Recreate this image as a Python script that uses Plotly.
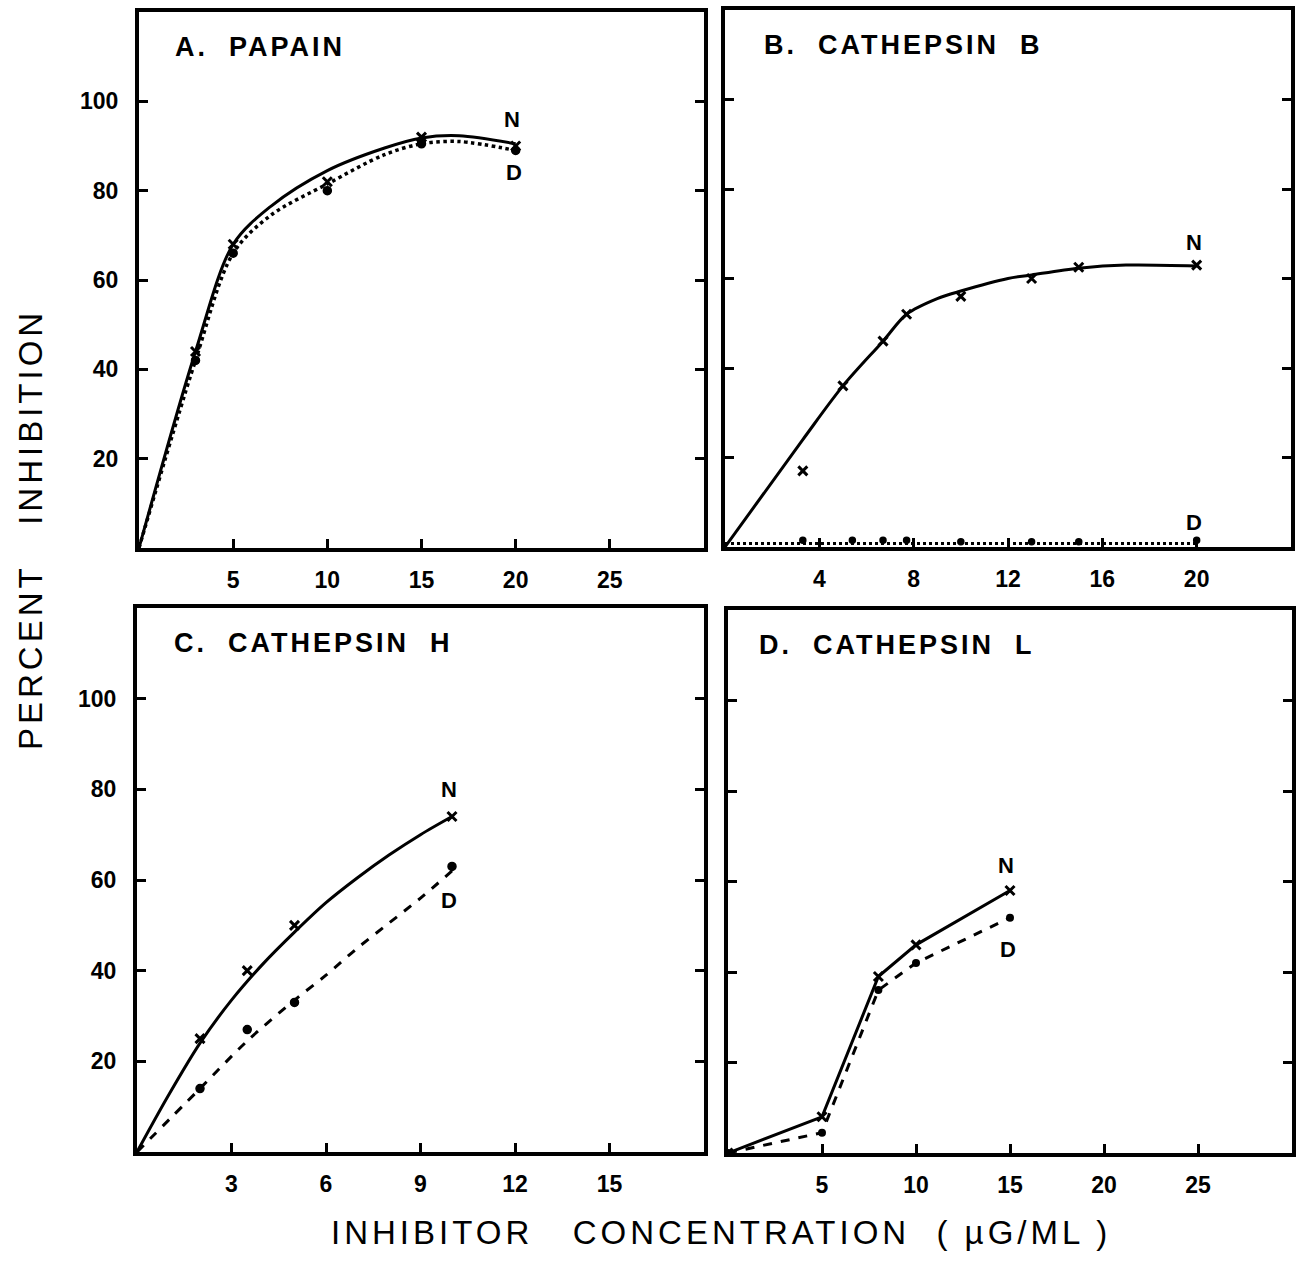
import plotly.graph_objects as go

# ---------------- data ----------------
# Panel A: Papain (x in ug/ml, y in % inhibition)
a_n_x = [3, 5, 10, 15, 20]
a_n_y = [44, 68, 82, 92, 90]
a_d_x = [3, 5, 10, 15, 20]
a_d_y = [42, 66, 80, 90.5, 89]
a_n_curve_x = [0, 3, 5, 7, 10, 13, 15, 17, 20]
a_n_curve_y = [0, 44, 68, 76.5, 84.5, 89.5, 91.8, 92.3, 90.5]
a_d_curve_x = [0, 3, 5, 7, 10, 13, 15, 17, 20]
a_d_curve_y = [0, 42, 66, 74.5, 81.5, 88, 90.5, 91, 89]

# Panel B: Cathepsin B
b_n_x = [3.3, 5, 6.7, 7.7, 10, 13, 15, 20]
b_n_y = [17, 36, 46, 52, 56, 60, 62.5, 63]
b_d_x = [3.3, 5.4, 6.7, 7.7, 10, 13, 15, 20]
b_d_y = [1.5, 1.5, 1.5, 1.5, 1.2, 1.2, 1.2, 1.5]
b_n_curve_x = [0, 3.3, 5, 6.7, 7.7, 9, 10, 12, 13, 15, 17, 20]
b_n_curve_y = [0, 24, 36, 46, 52, 55.5, 57.2, 60, 60.8, 62.3, 63, 62.8]
b_d_curve_x = [0, 20]
b_d_curve_y = [0.8, 0.8]

# Panel C: Cathepsin H
c_n_x = [2, 3.5, 5, 10]
c_n_y = [25, 40, 50, 74]
c_d_x = [2, 3.5, 5, 10]
c_d_y = [14, 27, 33, 63]
c_n_curve_x = [0, 1, 2, 3, 4, 5, 6, 7, 8, 9, 10]
c_n_curve_y = [0, 12.5, 24, 33.5, 41.5, 48.5, 55, 60.5, 65.5, 70, 74]
c_d_curve_x = [0, 2, 3.5, 5, 6, 7, 8, 9, 10]
c_d_curve_y = [0, 14, 24.5, 33.5, 39, 45, 50.5, 56, 62]

# Panel D: Cathepsin L
d_n_x = [0, 5, 8, 10, 15]
d_n_y = [0, 8, 39, 46, 58]
d_d_x = [0, 5, 8, 10, 15]
d_d_y = [0, 4.5, 36, 42, 52]

panel_titles = ["A.\u00a0 PAPAIN", "B.\u00a0 CATHEPSIN\u00a0 B",
                "C.\u00a0 CATHEPSIN\u00a0 H", "D.\u00a0 CATHEPSIN\u00a0 L"]
x_ranges = [[0, 30], [0, 24], [0, 18], [0, 30]]
x_tickvals = [[5, 10, 15, 20, 25], [4, 8, 12, 16, 20], [3, 6, 9, 12, 15], [5, 10, 15, 20, 25]]
y_tickvals = [20, 40, 60, 80, 100]

# N / D label positions (data units)
lab_n = [(19.8, 96), (19.9, 68), (9.9, 80), (14.8, 63.5)]
lab_d = [(19.9, 84), (19.9, 5.5), (9.9, 55.5), (14.9, 45)]

# ---------------- figure ----------------
W, H = 1299, 1262
BOLD = "Liberation Sans"

def px_x(p):
    return p / W

def px_y(p):
    return 1 - p / H

domains = [
    ([px_x(139), px_x(704)], [px_y(548), px_y(12)]),
    ([px_x(725), px_x(1291)], [px_y(547), px_y(10)]),
    ([px_x(137), px_x(704)], [px_y(1152), px_y(608)]),
    ([px_x(728), px_x(1292)], [px_y(1153), px_y(610)]),
]

fig = go.Figure()

def add_line(ax, x, y, dash, width=3, shape="spline"):
    fig.add_trace(go.Scatter(
        x=x, y=y, mode="lines", xaxis=f"x{ax}", yaxis=f"y{ax}",
        line=dict(color="black", width=width, dash=dash, shape=shape, smoothing=0.9),
        showlegend=False, hoverinfo="skip"))

def add_marks(ax, x, y, symbol, size, lw=1.5):
    fig.add_trace(go.Scatter(
        x=x, y=y, mode="markers", xaxis=f"x{ax}", yaxis=f"y{ax}",
        marker=dict(symbol=symbol, size=size, color="black",
                    line=dict(color="black", width=lw)),
        showlegend=False, hoverinfo="skip"))

# A
add_line("", a_n_curve_x, a_n_curve_y, "solid", 3)
add_line("", a_d_curve_x, a_d_curve_y, "dot", 3.5)
add_marks("", a_n_x, a_n_y, "x-thin", 9, 3)
add_marks("", a_d_x, a_d_y, "circle", 8)
# B
add_line("2", b_n_curve_x, b_n_curve_y, "solid", 3)
add_line("2", b_d_curve_x, b_d_curve_y, "dot", 3, shape="linear")
add_marks("2", b_n_x, b_n_y, "x-thin", 9, 3)
add_marks("2", b_d_x, b_d_y, "circle", 6)
# C
add_line("3", c_n_curve_x, c_n_curve_y, "solid", 3)
add_line("3", c_d_curve_x, c_d_curve_y, "dash", 3)
add_marks("3", c_n_x, c_n_y, "x-thin", 9, 3)
add_marks("3", c_d_x, c_d_y, "circle", 8)
# D
fig.add_trace(go.Scatter(x=d_n_x, y=d_n_y, mode="lines+markers", xaxis="x4", yaxis="y4",
                         line=dict(color="black", width=3),
                         marker=dict(symbol="x-thin", size=9, color="black",
                                     line=dict(color="black", width=3)),
                         showlegend=False, hoverinfo="skip"))
fig.add_trace(go.Scatter(x=d_d_x, y=d_d_y, mode="lines+markers", xaxis="x4", yaxis="y4",
                         line=dict(color="black", width=3, dash="dash"),
                         marker=dict(symbol="circle", size=8, color="black"),
                         showlegend=False, hoverinfo="skip"))

layout = dict(
    width=W, height=H,
    margin=dict(l=0, r=0, t=0, b=0),
    paper_bgcolor="white", plot_bgcolor="white",
    showlegend=False,
)

annotations = []
for i in range(4):
    sfx = "" if i == 0 else str(i + 1)
    xd, yd = domains[i]
    show_y_labels = i in (0, 2)
    layout[f"xaxis{sfx}"] = dict(
        domain=xd, anchor=f"y{sfx}", range=x_ranges[i],
        tickmode="array", tickvals=x_tickvals[i],
        ticks="inside", ticklen=9, tickwidth=3, tickcolor="black",
        showline=True, linewidth=4, linecolor="black", mirror=True,
        showgrid=False, zeroline=False,
        tickfont=dict(family=BOLD, size=23, color="black", weight="bold"),
        ticklabelstandoff=8,
    )
    layout[f"yaxis{sfx}"] = dict(
        domain=yd, anchor=f"x{sfx}", range=[0, 120],
        tickmode="array", tickvals=y_tickvals,
        showticklabels=show_y_labels,
        ticks="inside", ticklen=9, tickwidth=3, tickcolor="black",
        showline=True, linewidth=4, linecolor="black", mirror="ticks",
        showgrid=False, zeroline=False,
        tickfont=dict(family=BOLD, size=23, color="black", weight="bold"),
        ticklabelstandoff=12,
    )
    annotations.append(dict(
        text="<span style='letter-spacing:3px'>" + panel_titles[i] + "</span>",
        xref=f"x{sfx} domain", yref=f"y{sfx} domain",
        x=[0.06, 0.065, 0.062, 0.051][i], y=0.935, xanchor="left", yanchor="middle",
        showarrow=False,
        font=dict(family=BOLD, size=27, color="black", weight="bold")))
    for txt, (lx, ly) in (("N", lab_n[i]), ("D", lab_d[i])):
        annotations.append(dict(
            text=txt, xref=f"x{sfx}", yref=f"y{sfx}", x=lx, y=ly,
            xanchor="center", yanchor="middle", showarrow=False,
            font=dict(family=BOLD, size=22, color="black", weight="bold")))

annotations.append(dict(
    text="<span style='letter-spacing:4px'>PERCENT\u00a0\u00a0 INHIBITION</span>",
    xref="paper", yref="paper", x=30 / W, y=1 - 530 / H, textangle=-90,
    xanchor="center", yanchor="middle", showarrow=False,
    font=dict(family="Liberation Sans", size=33, color="black")))
annotations.append(dict(
    text="<span style='letter-spacing:4px'>INHIBITOR\u00a0\u00a0 CONCENTRATION\u00a0 ( µG/ML )</span>",
    xref="paper", yref="paper", x=721 / W, y=1 - 1232 / H,
    xanchor="center", yanchor="middle", showarrow=False,
    font=dict(family="Liberation Sans", size=33, color="black")))

layout["annotations"] = annotations
fig.update_layout(**layout)
fig.write_html("out.html")
